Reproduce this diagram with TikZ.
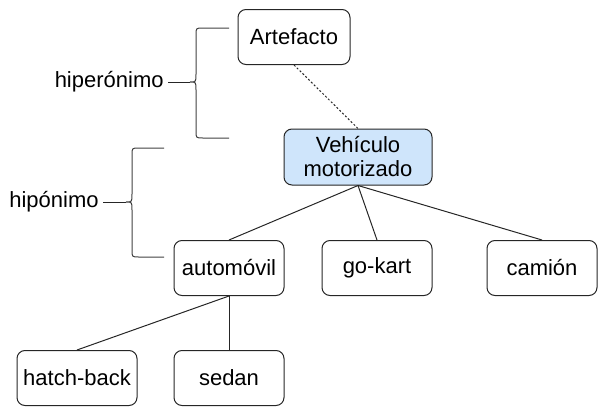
\documentclass[tikz,border=0pt]{standalone}
\usepackage{fontspec}
\setmainfont{Liberation Sans}
\usetikzlibrary{positioning}
\definecolor{vfill}{HTML}{CFE5FB}
\tikzset{
  box/.style={draw=black!85, line width=0.5pt, rounded corners=4pt, inner sep=0pt, minimum width=55pt, minimum height=27.5pt, align=center, font=\fontsize{11}{12}\selectfont},
  link/.style={draw=black!85, line width=0.5pt},
  brace/.style={draw=black!75, line width=0.5pt},
  lbl/.style={inner sep=0pt, font=\fontsize{11}{12}\selectfont}
}
\begin{document}
\begin{tikzpicture}[x=0.5pt, y=-0.5pt]
  \useasboundingbox (0,0) rectangle (606,413);
  \node[box, minimum width=56pt] (art) at (294,37) {Artefacto};
  \node[box, minimum width=74pt, minimum height=28pt, fill=vfill] (veh) at (358,157) {Vehículo\\motorizado};
  \node[box] (auto) at (229,268) {automóvil};
  \node[box] (kart) at (377,268) {go-kart};
  \node[box] (cam) at (542,268) {camión};
  \node[box, minimum width=60pt] (hatch) at (77,378) {hatch-back};
  \node[box] (sedan) at (229,378) {sedan};
  \draw[link, dash pattern=on 1pt off 1pt] (art.south) -- (veh.north);
  \draw[link] (veh.south) -- (auto.north);
  \draw[link] (veh.south) -- (kart.north);
  \draw[link] (veh.south) -- (cam.north);
  \draw[link] (auto.south) -- (hatch.north);
  \draw[link] (auto.south) -- (sedan.north);
  % llaves
  \coordinate (hipertip) at (190,82);
  \coordinate (hipotip) at (126,202);
  \draw[brace] (229,28) -- (203,28) .. controls (196,28) .. (196,35) -- (196,74)
    .. controls (196,82) .. (hipertip) .. controls (196,82) .. (196,90)
    -- (196,131) .. controls (196,138) .. (203,138) -- (229,138);
  \draw[brace] (164,148) -- (139,148) .. controls (132,148) .. (132,155) -- (132,194)
    .. controls (132,202) .. (hipotip) .. controls (132,202) .. (132,210)
    -- (132,250) .. controls (132,257) .. (139,257) -- (164,257);
  \node[lbl, anchor=east] (hiper) at (164,82) {hiperónimo};
  \node[lbl, anchor=east] (hipo) at (99,202) {hipónimo};
  \draw[link] ([xshift=2pt]hiper.east) -- (hipertip);
  \draw[link] ([xshift=2pt]hipo.east) -- (hipotip);
\end{tikzpicture}
\end{document}
